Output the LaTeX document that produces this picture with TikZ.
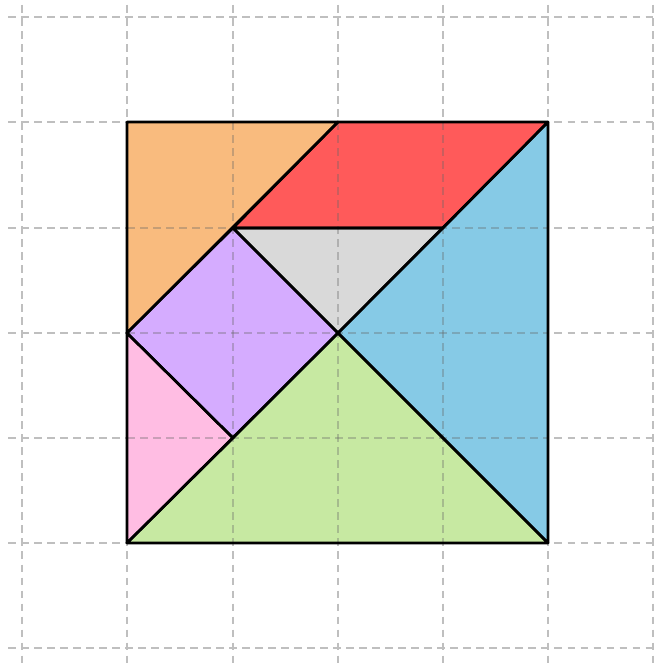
\documentclass[tikz,border=0pt]{standalone}
\begin{document}
\begin{tikzpicture}[x=0.01cm,y=-0.01cm,
  gridline/.style={gray!50,line width=0.4pt,dash pattern=on 2.2pt off 1.5pt},
  piece/.style={draw=black,line width=0.75pt,line join=round}]
\definecolor{corange}{HTML}{F9BB7E}
\definecolor{cred}{HTML}{FF5A5A}
\definecolor{cgray}{HTML}{D9D9D9}
\definecolor{cblue}{HTML}{86CAE6}
\definecolor{cpurple}{HTML}{D5ACFF}
\definecolor{cpink}{HTML}{FFBDE3}
\definecolor{cgreen}{HTML}{C7E9A2}
\useasboundingbox[fill=white] (0,0) rectangle (656,664);
\foreach \x in {22,127,233,338,443,548,653} \draw[gridline] (\x,5) -- (\x,664);
\foreach \y in {17,122,228,333,438,543,648} \draw[gridline] (8,\y) -- (656,\y);
\coordinate (A) at (127,122);
\coordinate (B) at (338,122);
\coordinate (C) at (548,122);
\coordinate (D) at (233,228);
\coordinate (E) at (443,228);
\coordinate (F) at (127,333);
\coordinate (G) at (338,333);
\coordinate (H) at (233,438);
\coordinate (I) at (127,543);
\coordinate (J) at (548,543);
\fill[corange] (A) -- (B) -- (F) -- cycle;
\fill[cred] (B) -- (C) -- (E) -- (D) -- cycle;
\fill[cgray] (D) -- (E) -- (G) -- cycle;
\fill[cblue] (C) -- (J) -- (G) -- cycle;
\fill[cpurple] (D) -- (G) -- (H) -- (F) -- cycle;
\fill[cpink] (F) -- (H) -- (I) -- cycle;
\fill[cgreen] (I) -- (J) -- (G) -- cycle;
\begin{scope}[draw opacity=0.35]
\foreach \x in {233,338,443} \draw[gridline,draw=black!60] (\x,122) -- (\x,543);
\foreach \y in {228,333,438} \draw[gridline,draw=black!60] (127,\y) -- (548,\y);
\end{scope}
\draw[piece] (A) -- (B) -- (F) -- cycle;
\draw[piece] (B) -- (C) -- (E) -- (D) -- cycle;
\draw[piece] (D) -- (E) -- (G) -- cycle;
\draw[piece] (C) -- (J) -- (G) -- cycle;
\draw[piece] (D) -- (G) -- (H) -- (F) -- cycle;
\draw[piece] (F) -- (H) -- (I) -- cycle;
\draw[piece] (I) -- (J) -- (G) -- cycle;
\end{tikzpicture}
\end{document}
